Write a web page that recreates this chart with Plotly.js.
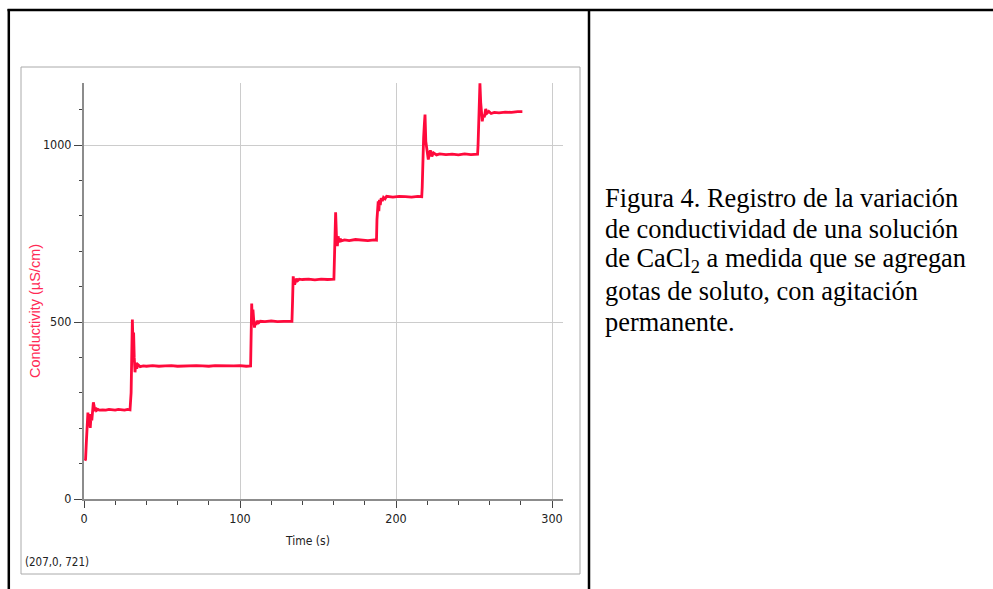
<!DOCTYPE html>
<html>
<head>
<meta charset="utf-8">
<script src="https://cdn.plot.ly/plotly-3.0.1.min.js"></script>
<style>
  html, body { margin: 0; padding: 0; background: #ffffff; }
  #chart { width: 993px; height: 589px; }
</style>
</head>
<body>
<div id="chart"></div>
<script>
// ---- Data (time in s, conductivity in µS/cm) ----
const timeS = [
  0.6, 1.0, 1.5, 2.0, 2.5, 3.0, 3.5, 4.0, 4.5, 5.0, 5.5, 6.0, 6.5, 7.0, 7.5, 8.0, 9.0, 10, 12, 14, 16, 18, 20, 22, 24, 26, 28, 29.5,
  30.2, 30.6, 31.0, 31.4, 31.8, 32.2, 32.7, 33.2, 33.8, 34.5, 36, 38, 40, 44, 48, 52, 56, 60, 64, 68, 72, 76, 80, 84, 88, 92, 96, 100, 104, 106.8,
  107.1, 107.5, 107.9, 108.3, 108.8, 109.3, 109.7, 110.3, 111, 112, 113, 116, 120, 124, 128, 131, 133.3,
  133.7, 134.1, 134.5, 135.0, 135.5, 136.2, 137, 138, 140, 144, 148, 152, 156, 160.2,
  160.6, 161.0, 161.3, 161.8, 162.4, 162.9, 163.5, 164.2, 165, 167, 170, 174, 178, 182, 186, 187.5,
  187.8, 188.2, 188.6, 189.0, 189.4, 189.9, 190.5, 191.2, 192, 193, 194, 198, 202, 206, 210, 214, 216.5,
  216.8, 217.2, 217.7, 218.2, 218.6, 219.1, 219.6, 220.2, 220.7, 221.3, 222, 223, 224, 226, 228, 232, 236, 240, 244, 248, 252.3,
  252.6, 253.0, 253.4, 253.8, 254.3, 254.8, 255.3, 255.9, 256.6, 257.5, 258.4, 259.5, 261, 263, 266, 270, 274, 278, 281
];
const conductivity = [
  108, 112, 160, 215, 244, 205, 240, 201, 235, 222, 250, 273, 262, 248, 258, 250, 253, 251, 252, 251, 253, 252, 251, 253, 252, 251, 253, 252,
  300, 470, 507, 440, 470, 400, 358, 385, 368, 380, 374, 376, 375, 377, 375, 376, 377, 375, 376, 375, 377, 376, 375, 377, 376, 375, 376, 377, 375, 376,
  430, 552, 500, 535, 505, 484, 500, 492, 503, 498, 502, 501, 503, 501, 502, 503, 502,
  560, 629, 615, 606, 612, 622, 617, 621, 620, 621, 619, 621, 620, 621,
  690, 780, 810, 745, 714, 742, 725, 735, 729, 732, 730, 733, 731, 730, 732, 731,
  790, 820, 841, 813, 845, 830, 850, 842, 852, 848, 855, 853, 855, 854, 853, 855, 854,
  880, 960, 1020, 1060, 1086, 1010, 990, 975, 959, 972, 985, 968, 978, 972, 975, 973, 974, 972, 975, 973, 974,
  1000, 1080, 1140, 1174, 1120, 1090, 1067, 1085, 1078, 1102, 1090, 1095, 1089, 1092, 1091, 1093, 1092, 1094, 1094
];

const xTickVals = [0, 100, 200, 300];
const xTickText = ["0", "100", "200", "300"];
const yTickVals = [0, 500, 1000];
const yTickText = ["0", "500", "1000"];

const xTitle = "Time (s)";
const yTitle = "Conductivity (µS/cm)";
const cursorReadout = "(207,0, 721)";
const captionLines = [
  "Figura 4. Registro de la variación",
  "de conductividad de una solución",
  "de CaCl<sub>2</sub> a medida que se agregan",
  "gotas de soluto, con agitación",
  "permanente."
];

// ---- Layout geometry (pixels) ----
const L = 84, R = 563, T = 83, B = 499;
const xp = px => (px - L) / (R - L);
const yp = py => (B - py) / (B - T);

const narrow = "'Liberation Sans Narrow', 'DejaVu Sans Condensed', 'Arial Narrow', sans-serif";
const red = "#ff0a3c";

const annotations = [
  { text: xTitle, xref: "paper", yref: "paper", x: xp(307), y: yp(541), xanchor: "center", yanchor: "middle",
    showarrow: false, font: { family: narrow, size: 12, color: "#222" } },
  { text: yTitle, xref: "paper", yref: "paper", x: xp(35), y: yp(311), xanchor: "center", yanchor: "middle",
    textangle: -90, showarrow: false, font: { family: "'Liberation Sans', Arial, sans-serif", size: 14.5, color: "#ff2a55" } },
  { text: cursorReadout, xref: "paper", yref: "paper", x: xp(23), y: yp(562), xanchor: "left", yanchor: "middle",
    showarrow: false, font: { family: narrow, size: 11.5, color: "#222" } }
];
captionLines.forEach((line, i) => {
  const baseline = 206.8 + 31.1 * i;
  annotations.push({
    text: line, xref: "paper", yref: "paper", x: xp(603), y: yp(baseline - 9),
    xanchor: "left", yanchor: "middle", align: "left", showarrow: false,
    font: { family: "'Liberation Serif', 'Times New Roman', serif", size: 26.4, color: "#000" }
  });
});

const shapes = [
  // chart frame
  { type: "rect", xref: "paper", yref: "paper", x0: xp(21), x1: xp(580), y0: yp(67), y1: yp(574),
    line: { color: "#aaaaaa", width: 1 }, fillcolor: "rgba(0,0,0,0)" },
  // table borders
  { type: "line", xref: "paper", yref: "paper", x0: xp(7.5), x1: xp(993), y0: yp(10), y1: yp(10),
    line: { color: "#000", width: 2.5 } },
  { type: "line", xref: "paper", yref: "paper", x0: xp(8.8), x1: xp(8.8), y0: yp(9), y1: yp(589),
    line: { color: "#000", width: 2.5 } },
  { type: "line", xref: "paper", yref: "paper", x0: xp(589), x1: xp(589), y0: yp(9), y1: yp(589),
    line: { color: "#000", width: 2.5 } }
];

const trace = {
  x: timeS, y: conductivity, type: "scatter", mode: "lines",
  line: { color: red, width: 2.8 }, hoverinfo: "skip"
};

const layout = {
  width: 993, height: 589, autosize: false,
  margin: { l: L, r: 993 - R, t: T, b: 589 - B, pad: 0 },
  paper_bgcolor: "#ffffff", plot_bgcolor: "#ffffff",
  showlegend: false,
  xaxis: {
    range: [0, (R - L) / 1.56], tickmode: "array", tickvals: xTickVals, ticktext: xTickText,
    ticks: "outside", ticklen: 7, tickwidth: 1, tickcolor: "#444",
    showgrid: true, gridcolor: "#cccccc", gridwidth: 1,
    showline: true, linecolor: "#8c8c8c", linewidth: 2, zeroline: false,
    minor: { dtick: 20, tick0: 0, ticks: "outside", ticklen: 4, tickwidth: 1, tickcolor: "#444", showgrid: false },
    tickfont: { family: narrow, size: 12.5, color: "#222" }, fixedrange: true
  },
  yaxis: {
    range: [0, (B - T) / 0.354], tickmode: "array", tickvals: yTickVals, ticktext: yTickText,
    ticks: "outside", ticklen: 8, tickwidth: 1, tickcolor: "#444",
    showgrid: true, gridcolor: "#cccccc", gridwidth: 1,
    showline: true, linecolor: "#8c8c8c", linewidth: 2, zeroline: false,
    minor: { dtick: 100, tick0: 0, ticks: "outside", ticklen: 3, tickwidth: 1, tickcolor: "#444", showgrid: false },
    tickfont: { family: narrow, size: 12.5, color: "#222" }, fixedrange: true
  },
  annotations: annotations,
  shapes: shapes
};

Plotly.newPlot("chart", [trace], layout, { staticPlot: true, displayModeBar: false });
</script>
</body>
</html>
